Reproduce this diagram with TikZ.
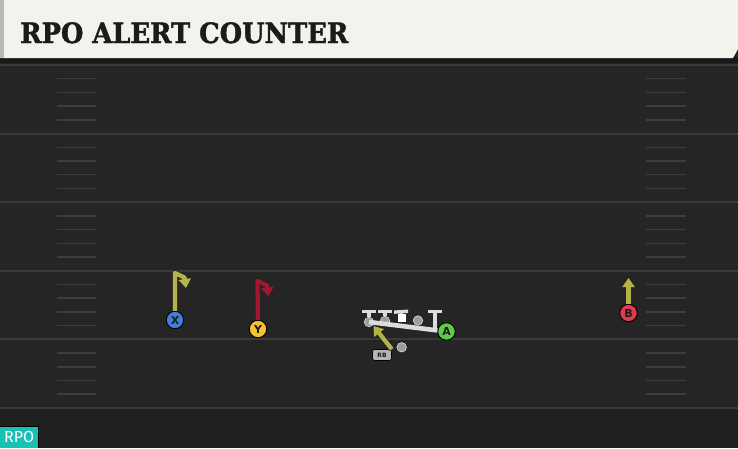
\documentclass[tikz,border=0pt]{standalone}
\usepackage{fontspec}
\setmainfont{DejaVu Sans}
\newfontfamily\titlefont[FakeBold=1.6]{DejaVu Serif}
\newfontfamily\tagfont{Fira Sans}
\usepackage{tikz}
\usetikzlibrary{arrows.meta}
\definecolor{field}{HTML}{252525}
\definecolor{fieldLow}{HTML}{202020}
\definecolor{yardLine}{HTML}{3A3A3A}
\definecolor{hashLine}{HTML}{3D3D3D}
\definecolor{banner}{HTML}{F4F2EC}
\definecolor{bannerEdge}{HTML}{B9B9B9}
\definecolor{ink}{HTML}{1B1B1B}
\definecolor{olive}{HTML}{B3B34A}
\definecolor{crimson}{HTML}{A3162F}
\definecolor{xBlue}{HTML}{3F7FD8}
\definecolor{yGold}{HTML}{F3C22E}
\definecolor{bRed}{HTML}{E2394B}
\definecolor{aGreen}{HTML}{5CCB46}
\definecolor{lineGray}{HTML}{DCDCDC}
\definecolor{olGray}{HTML}{9C9C9C}
\definecolor{tagTeal}{HTML}{17C2B4}
\tikzset{
  yardStyle/.style={draw=yardLine, line width=2pt},
  hashStyle/.style={draw=hashLine, line width=1.5pt},
  player/.style={circle, draw=black, line width=0.9pt, minimum size=17.5pt, inner sep=0pt,
    text=ink, font=\bfseries\fontsize{11}{11}\selectfont},
  route/.style={line width=4.2pt, line join=round, -{Triangle[length=9pt,width=12pt]},
    preaction={draw=black!85, line width=5.8pt, line join=round, -{Triangle[length=10pt,width=14pt]}}},
  blockT/.style={draw=lineGray, line width=3.4pt, -{Bar[width=14pt]}},
  olMan/.style={circle, fill=olGray, draw=lineGray, line width=0.6pt, minimum size=9.5pt, inner sep=0pt},
  centerMan/.style={rectangle, fill=white, minimum size=8pt, inner sep=0pt},
  rbTag/.style={rounded corners=2.5pt, fill=olGray!75!white, draw=black, line width=0.6pt,
    minimum width=19pt, minimum height=11pt, inner sep=0pt, text=ink, font=\bfseries\fontsize{6}{6}\selectfont},
  rpoTag/.style={fill=tagTeal, text=white, minimum width=38pt, minimum height=21pt, inner sep=0pt,
    font=\tagfont\fontsize{16}{16}\selectfont}
}

\begin{document}
\begin{tikzpicture}[x=1pt, y=-1pt]
  \useasboundingbox (0,0) rectangle (738,448);
  \fill[field] (0,0) rectangle (738,448);
  \fill[fieldLow] (0,408) rectangle (738,448);

  % yard lines and hashes
  \foreach \y in {65,133.6,202.2,270.8,339.4,408}
    \draw[yardStyle] (0,\y) -- (738,\y);
  \foreach \y in {65,133.6,202.2,270.8,339.4}
    \foreach \k in {1,...,4}{
      \draw[hashStyle] (57,{\y+13.7*\k}) -- (96,{\y+13.7*\k});
      \draw[hashStyle] (646,{\y+13.7*\k}) -- (686,{\y+13.7*\k});
    }

  % banner
  \fill[black!90] (0,57) rectangle (738,63);
  \fill[banner] (0,0) -- (738,0) -- (738,49) -- (733,58) -- (0,58) -- cycle;
  \fill[bannerEdge] (0,0) rectangle (4,58);
  \node[anchor=base west, inner sep=0pt, text=ink,
    font=\titlefont\bfseries\fontsize{28}{28}\selectfont] (title) at (20,43)
    {\scalebox{0.92}[1]{RPO ALERT COUNTER}};

  % line
  \coordinate (ltBlock) at (369,310);
  \coordinate (lgBlock) at (385,310);
  \coordinate (cBlock) at (401,310);
  \coordinate (rtBlock) at (435,310);
  \coordinate (rtBase) at (435,330);
  \node[olMan] (lt) at (369,322) {};
  \node[olMan] (lg) at (385,321) {};
  \node[centerMan] (c) at (401.5,318) {};
  \node[olMan] (rg) at (418,320.5) {};
  \draw[blockT] (lt) -- (ltBlock);
  \draw[blockT] (lg) -- (lgBlock);
  \draw[blockT] (c) -- (cBlock);
  \draw[blockT] (rtBase) -- (rtBlock);
  \node[olMan] (qb) at (401.7,347.3) {};

  \node[player, fill=aGreen] (A) at (446.5,331.5) {A};
  \draw[draw=lineGray, line width=4.6pt] (lt.center) -- (A);

  % backfield
  \node[rbTag] (rb) at (382,355) {RB};
  \coordinate (rbAim) at (373.5,326);
  \draw[route, draw=olive] (rb.north east) -- (rbAim);

  % receivers
  \node[player, fill=xBlue] (X) at (175,320) {X};
  \node[player, fill=yGold] (Y) at (258,329) {Y};
  \node[player, fill=bRed] (B) at (628.5,313) {B};

  \coordinate (xTop) at (175,273);
  \coordinate (xBreak) at (184.5,277.5);
  \coordinate (xEnd) at (186,288);
  \draw[route, draw=olive] (X) -- (xTop) -- (xBreak) -- (xEnd);

  \coordinate (yTop) at (257.5,281);
  \coordinate (yBreak) at (267,285.5);
  \coordinate (yEnd) at (268.5,296.5);
  \draw[route, draw=crimson] (Y) -- (yTop) -- (yBreak) -- (yEnd);

  \coordinate (bEnd) at (628.5,278);
  \draw[route, draw=olive] (B) -- (bEnd);

  % tag
  \node[rpoTag, anchor=south west] (rpo) at (0,448) {RPO};
  \draw[black, line width=1pt] (rpo.north west) -- (rpo.north east) -- (rpo.south east);
\end{tikzpicture}
\end{document}
